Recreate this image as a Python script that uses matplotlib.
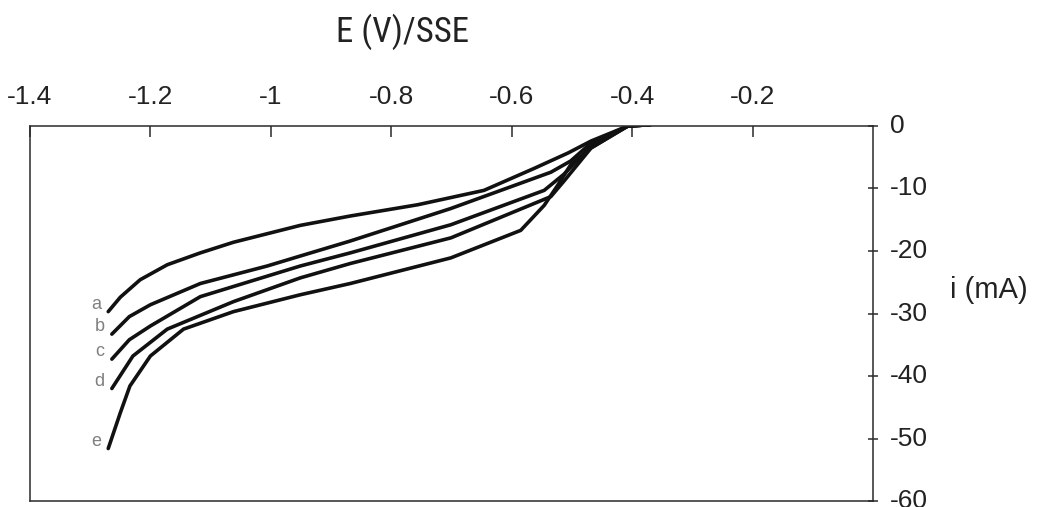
import matplotlib
matplotlib.use("Agg")
import matplotlib.pyplot as plt
from matplotlib import font_manager as fm

# Polarisation curves: potential E (V vs SSE) and current i (mA)
E_a = [-1.27, -1.25, -1.217, -1.172, -1.117, -1.062, -0.951, -0.868, -0.756, -0.646, -0.563, -0.506, -0.468, -0.407, -0.37]
i_a = [-29.7, -27.4, -24.6, -22.2, -20.3, -18.6, -15.9, -14.4, -12.6, -10.3, -6.8, -4.3, -2.4, 0.0, 0.2]

E_b = [-1.264, -1.235, -1.2, -1.117, -1.006, -0.951, -0.868, -0.701, -0.535, -0.502, -0.468, -0.407, -0.37]
i_b = [-33.3, -30.5, -28.6, -25.2, -22.4, -20.8, -18.4, -13.2, -7.4, -5.6, -2.7, 0.0, 0.2]

E_c = [-1.264, -1.235, -1.2, -1.117, -0.951, -0.868, -0.701, -0.546, -0.513, -0.468, -0.407, -0.37]
i_c = [-37.3, -34.2, -32.0, -27.3, -22.4, -20.3, -15.8, -10.3, -7.7, -3.2, 0.0, 0.2]

E_d = [-1.264, -1.229, -1.172, -1.062, -0.951, -0.868, -0.701, -0.535, -0.513, -0.468, -0.407, -0.37]
i_d = [-42.0, -36.8, -32.5, -28.1, -24.3, -22.0, -17.9, -11.3, -8.8, -3.5, 0.0, 0.2]

E_e = [-1.27, -1.25, -1.234, -1.2, -1.145, -1.062, -0.951, -0.868, -0.701, -0.585, -0.546, -0.523, -0.502, -0.468, -0.407, -0.37]
i_e = [-51.6, -45.9, -41.6, -36.8, -32.5, -29.7, -27.0, -25.2, -21.1, -16.7, -12.7, -9.4, -6.2, -3.5, 0.0, 0.2]

curve_names = ["a", "b", "c", "d", "e"]
x_ticks = [-1.4, -1.2, -1.0, -0.8, -0.6, -0.4, -0.2]
x_tick_labels = ["-1.4", "-1.2", "-1", "-0.8", "-0.6", "-0.4", "-0.2"]
y_ticks = [0, -10, -20, -30, -40, -50, -60]
y_tick_labels = ["0", "-10", "-20", "-30", "-40", "-50", "-60"]

# Pick a narrow face for the axis title when one is installed
installed = {f.name for f in fm.fontManager.ttflist}
narrow = next((n for n in ["Liberation Sans Narrow", "Arial Narrow", "Roboto Condensed",
                           "Open Sans Condensed", "DejaVu Sans Condensed"] if n in installed), None)
base_family = ["Liberation Sans", "DejaVu Sans"]
plt.rcParams["font.family"] = base_family
if narrow:
    title_family, title_size = [narrow] + base_family, 25
else:
    title_family, title_size = base_family, 21

text_color = "#222222"
frame_color = "#2a2a2a"

fig = plt.figure(figsize=(10.4, 5.07), dpi=100)
ax = fig.add_axes([0.0288, 0.0118, 0.8106, 0.7397])

series = [(E_a, i_a), (E_b, i_b), (E_c, i_c), (E_d, i_d), (E_e, i_e)]
for (E, i), name in zip(series, curve_names):
    ax.plot(E, i, color="#111111", lw=2.6, solid_capstyle="round", solid_joinstyle="round")
    ax.text(E[0] - 0.012, i[0] + 1.2, name, ha="right", va="center",
            fontsize=13, color="#808080")

ax.set_xlim(-1.4, 0.0)
ax.set_ylim(-60, 0)

ax.xaxis.tick_top()
ax.set_xticks(x_ticks)
ax.set_xticklabels(x_tick_labels, fontsize=19, color=text_color)
ax.tick_params(axis="x", direction="in", length=8, width=1.1, pad=12, color=frame_color)

ax.yaxis.tick_right()
ax.set_yticks(y_ticks)
ax.set_yticklabels(y_tick_labels, fontsize=19, color=text_color, va="center")
ax.tick_params(axis="y", direction="inout", length=7, width=1.1, pad=9, color=frame_color)

for s in ax.spines.values():
    s.set_color(frame_color)
    s.set_linewidth(1.1)

fig.text(0.387, 0.917, "E (V)/SSE", fontsize=title_size, family=title_family,
         color=text_color, ha="center", va="baseline")
fig.text(0.951, 0.428, "i (mA)", fontsize=21, color=text_color, ha="center", va="center")

fig.savefig("out.png", dpi=100)
